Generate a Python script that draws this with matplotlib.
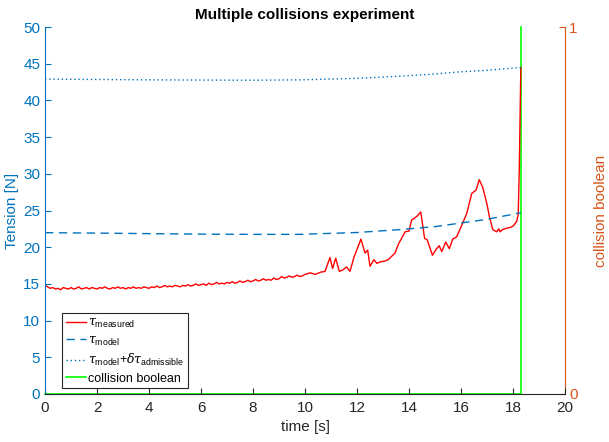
import numpy as np
import matplotlib.pyplot as plt

plt.rcParams['font.family'] = ['Liberation Sans', 'DejaVu Sans']
plt.rcParams['mathtext.fontset'] = 'custom'
plt.rcParams['mathtext.rm'] = 'Liberation Sans'
plt.rcParams['mathtext.it'] = 'DejaVu Serif:italic'

t_base = np.arange(0, 10.01, 0.1)
tau_base = [14.8, 14.6, 14.4, 14.5, 14.3, 14.4, 14.2, 14.5, 14.4, 14.3,
            14.5, 14.3, 14.4, 14.6, 14.3, 14.4, 14.5, 14.3, 14.5, 14.4,
            14.3, 14.5, 14.4, 14.6, 14.4, 14.3, 14.5, 14.4, 14.6, 14.4,
            14.5, 14.3, 14.5, 14.4, 14.6, 14.4, 14.5, 14.4, 14.6, 14.5,
            14.4, 14.6, 14.5, 14.7, 14.5, 14.6, 14.8, 14.6, 14.7, 14.6,
            14.8, 14.7, 14.6, 14.8, 14.7, 14.9, 14.7, 14.8, 15.0, 14.8,
            14.9, 15.0, 14.8, 15.1, 14.9, 15.0, 15.2, 15.0, 15.1, 15.0,
            15.2, 15.1, 15.3, 15.1, 15.2, 15.4, 15.2, 15.3, 15.5, 15.3,
            15.4, 15.6, 15.4, 15.5, 15.7, 15.5, 15.6, 15.5, 15.8, 15.6,
            15.7, 16.0, 15.8, 15.9, 16.1, 15.9, 16.0, 16.2, 16.0, 16.1,
            16.3]
# after 10 s: the bumps
t_peaks = [10.2, 10.4, 10.6, 10.77, 10.96, 11.06, 11.18, 11.32, 11.45, 11.6,
           11.73, 11.88, 12.15, 12.31, 12.41, 12.5, 12.65, 12.76, 12.9, 13.05,
           13.2, 13.46, 13.59, 13.85, 14.0, 14.1, 14.3, 14.45, 14.6, 14.7,
           14.9, 15.06, 15.16, 15.26, 15.41, 15.55, 15.68, 15.83, 16.03, 16.22,
           16.41, 16.58, 16.7, 16.83, 16.99, 17.09, 17.22, 17.37, 17.45, 17.5,
           17.6, 17.76, 17.9, 18.01, 18.14, 18.2, 18.24, 18.3]
tau_peaks = [16.5, 16.3, 16.6, 16.7, 18.6, 17.1, 18.5, 16.7, 16.9, 17.3,
             16.7, 18.6, 21.1, 19.2, 19.6, 17.4, 18.3, 17.8, 18.0, 18.1,
             18.3, 19.2, 20.4, 22.1, 22.2, 23.7, 24.2, 24.8, 21.2, 21.0,
             18.9, 19.8, 20.2, 19.4, 20.7, 19.8, 21.1, 21.4, 23.0, 24.6,
             27.3, 27.8, 29.2, 28.2, 26.0, 24.2, 22.4, 22.1, 22.5, 22.1,
             22.4, 22.6, 22.7, 22.9, 23.5, 24.5, 30.5, 44.5]
t_meas = np.concatenate([t_base, t_peaks])
tau_meas = np.concatenate([tau_base, tau_peaks])

t_model = [0, 2, 4, 6, 8, 9.8, 12, 13.65, 15, 16, 17, 18.3]
tau_model = [21.98, 21.92, 21.85, 21.78, 21.75, 21.75, 22.0, 22.4, 22.8, 23.3, 23.8, 24.7]
tau_adm = [42.9, 42.85, 42.8, 42.77, 42.75, 42.8, 43.0, 43.3, 43.6, 43.9, 44.1, 44.5]

t_coll = [0, 18.3, 18.3]
coll = [0, 0, 1]

blue = '#0072BD'
orange = '#D95319'

fig = plt.figure(figsize=(6.09, 4.42), dpi=100)
ax = fig.add_axes([0.0739, 0.1086, 0.8539, 0.8303])
ax2 = ax.twinx()

l1, = ax.plot(t_meas, tau_meas, color='red', lw=1.0)
l2, = ax.plot(t_model, tau_model, color=blue, lw=1.0, ls=(0, (6, 4)))
l3, = ax.plot(t_model, tau_adm, color=blue, lw=1.0, ls=(0, (1, 2)))
l4, = ax2.plot(t_coll, coll, color='#00FF00', lw=1.2, clip_on=False)
ax.set_zorder(ax2.get_zorder() + 1)
ax.patch.set_visible(False)

ax.set_xlim(0, 20)
ax.set_ylim(0, 50)
ax2.set_ylim(0, 1)
ax.set_xticks(range(0, 21, 2))
ax.set_yticks(range(0, 51, 5))
ax2.set_yticks([0, 1])

for a in (ax, ax2):
    a.spines['top'].set_visible(False)
ax.spines['right'].set_visible(False)
ax2.spines['left'].set_visible(False)
ax2.spines['bottom'].set_visible(False)
ax.spines['left'].set_color(blue)
ax.spines['bottom'].set_color('#262626')
ax2.spines['right'].set_color(orange)

ax.tick_params(axis='x', direction='in', colors='#262626', labelsize=11, length=4, pad=5)
ax.tick_params(axis='y', direction='in', colors=blue, labelsize=11, length=4)
ax2.tick_params(axis='y', direction='in', colors=orange, labelsize=11, length=4, pad=3)

ax.set_xlabel('time [s]', fontsize=11, color='#262626')
ax.set_ylabel('Tension [N]', fontsize=11, color=blue, labelpad=3)
ax2.set_ylabel('collision boolean', fontsize=11, color=orange, labelpad=12)
ax.set_title('Multiple collisions experiment', fontsize=11, fontweight='bold', pad=6)

leg = ax.legend([l1, l2, l3, l4],
                [r'$\tau_{\mathrm{measured}}$', r'$\tau_{\mathrm{model}}$',
                 r'$\tau_{\mathrm{model}}$+$\delta\tau_{\mathrm{admissible}}$',
                 'collision boolean'],
                loc='lower left', bbox_to_anchor=(0.025, 0.005), fontsize=9,
                fancybox=False, framealpha=1, edgecolor='#262626',
                handlelength=1.6, handletextpad=0.2, labelspacing=0.35,
                borderpad=0.3, borderaxespad=0.3)
leg.get_frame().set_linewidth(0.8)

fig.savefig('out.png', dpi=100)
